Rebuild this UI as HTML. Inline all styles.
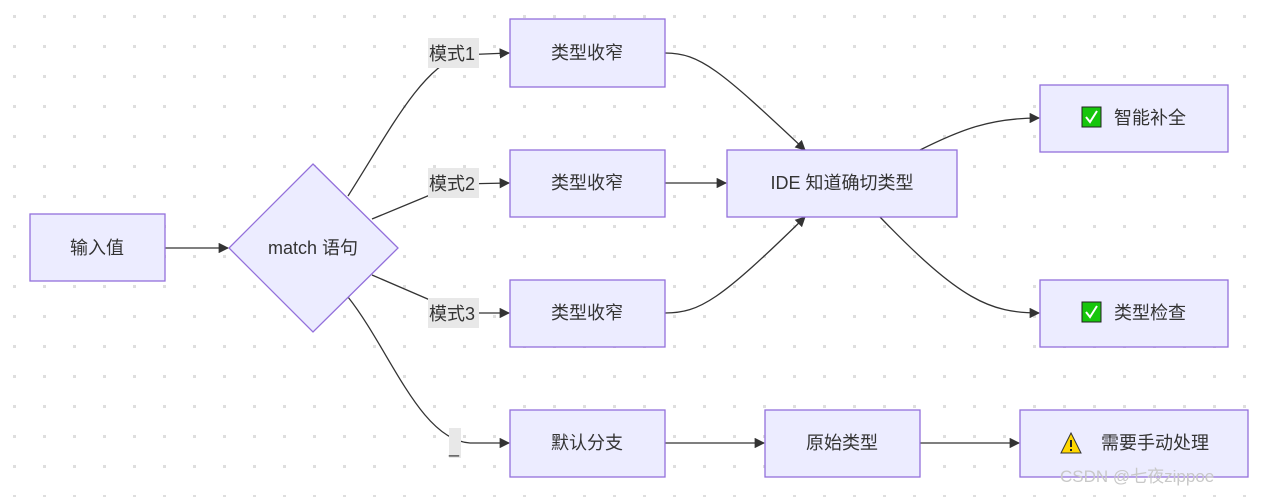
<!DOCTYPE html>
<html><head><meta charset="utf-8"><style>
html,body{margin:0;padding:0;background:#fff;}
svg{display:block;}
text{font-family:"Liberation Sans","Noto Sans CJK SC",sans-serif;font-size:18px;fill:#333;}
</style></head><body>
<svg width="1270" height="497" viewBox="0 0 1270 497" xmlns="http://www.w3.org/2000/svg">
<defs>
<pattern id="dots" x="0" y="0" width="30" height="30" patternUnits="userSpaceOnUse">
<rect x="13" y="15" width="3" height="3" fill="#dedede"/>
</pattern>
<marker id="ah" viewBox="0 0 10 10" refX="9" refY="5" markerWidth="8" markerHeight="8" orient="auto">
<path d="M0,0 L10,5 L0,10 z" fill="#333"/>
</marker>
</defs>
<rect width="1270" height="497" fill="url(#dots)"/>
<g fill="none" stroke="#333" stroke-width="1.3" marker-end="url(#ah)">
<path d="M165,248 L228,248"/>
<path d="M348,196 C390,130 420,70 460,55 L509,53"/>
<path d="M372,219 L430,195 L460,184 L509,183"/>
<path d="M372,275 L430,300 L460,313 L509,313"/>
<path d="M348,297 C390,350 420,440 470,443 L509,443"/>
<path d="M665,53 C700,53 720,70 805,150"/>
<path d="M665,183 L726,183"/>
<path d="M665,313 C700,313 720,300 805,217"/>
<path d="M920,150 C960,130 990,118 1039,118"/>
<path d="M880,217 C960,300 990,313 1039,313"/>
<path d="M665,443 L764,443"/>
<path d="M920,443 L1019,443"/>
</g>
<g fill="#e8e8e8">
<rect x="428" y="38" width="51" height="30"/>
<rect x="428" y="168" width="51" height="30"/>
<rect x="428" y="298" width="51" height="30"/>
<rect x="449" y="428" width="12" height="30"/>
</g>
<text x="429" y="60">模式1</text>
<text x="429" y="190">模式2</text>
<text x="429" y="320">模式3</text>
<text x="449" y="453">_</text>
<g fill="#ececff" stroke="#9370db" stroke-width="1.3">
<rect x="30" y="214" width="135" height="67"/>
<polygon points="313,164 398,248 313,332 229,248"/>
<rect x="510" y="19" width="155" height="68"/>
<rect x="510" y="150" width="155" height="67"/>
<rect x="510" y="280" width="155" height="67"/>
<rect x="510" y="410" width="155" height="67"/>
<rect x="727" y="150" width="230" height="67"/>
<rect x="1040" y="85" width="188" height="67"/>
<rect x="1040" y="280" width="188" height="67"/>
<rect x="765" y="410" width="155" height="67"/>
<rect x="1020" y="410" width="228" height="67"/>
</g>
<g text-anchor="middle">
<text x="97" y="254">输入值</text>
<text x="313" y="254">match 语句</text>
<text x="587" y="59">类型收窄</text>
<text x="587" y="189">类型收窄</text>
<text x="587" y="319">类型收窄</text>
<text x="587" y="449">默认分支</text>
<text x="842" y="189">IDE 知道确切类型</text>
<text x="842" y="449">原始类型</text>
<text x="1150" y="124">智能补全</text>
<text x="1150" y="319">类型检查</text>
<text x="1155" y="449">需要手动处理</text>
</g>
<g>
<rect x="1082" y="107" width="19" height="20" fill="#16c60c" stroke="#222" stroke-width="1"/>
<path d="M1086,117 L1090,122 L1097,111" fill="none" stroke="#fff" stroke-width="2"/>
<rect x="1082" y="302" width="19" height="20" fill="#16c60c" stroke="#222" stroke-width="1"/>
<path d="M1086,312 L1090,317 L1097,306" fill="none" stroke="#fff" stroke-width="2"/>
<polygon points="1071,433 1081,453 1061,453" fill="#ffd700" stroke="#333" stroke-width="1"/>
<rect x="1070" y="440" width="2" height="7" fill="#222"/>
<rect x="1070" y="449" width="2" height="2" fill="#222"/>
</g>
<text x="1060" y="482" style="font-size:17px;fill:#c8c8c8;">CSDN @七夜zippoe</text>
</svg>
</body></html>
